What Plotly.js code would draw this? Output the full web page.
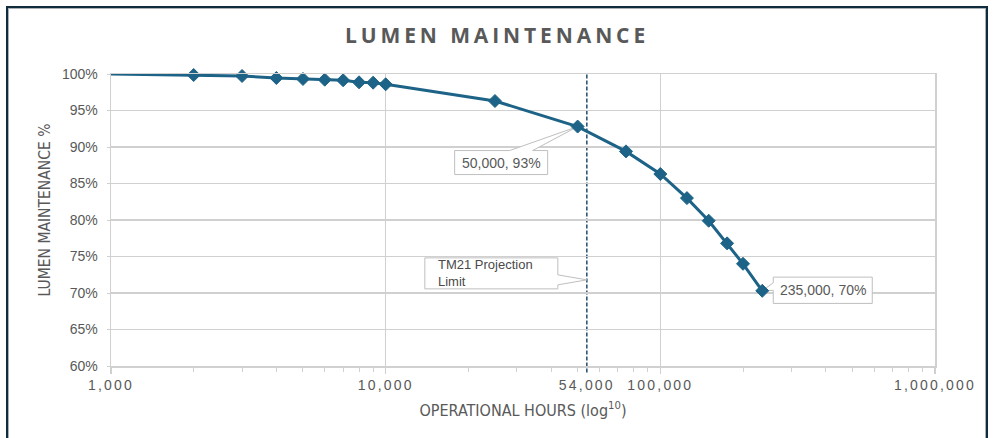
<!DOCTYPE html>
<html>
<head>
<meta charset="utf-8">
<script src="https://cdn.plot.ly/plotly-3.0.1.min.js"></script>
<style>
  html, body { margin: 0; padding: 0; background: #ffffff; }
  #wrap { position: relative; width: 994px; height: 438px; overflow: hidden; }
  #chart { position: absolute; left: 0; top: 0; width: 994px; height: 438px; }
  #frame { position: absolute; left: 6px; top: 6px; width: 982px; height: 460px; box-sizing: border-box;
           border: 2.5px solid #102d3d; box-shadow: inset 0 0 0 1px #a9b1b7; pointer-events: none; }
  .xtick text, .x2tick text { letter-spacing: 2.2px; }
  .gtitle { letter-spacing: 3.9px; }
  .g-ytitle { transform: translate(0px, -10px); }
</style>
</head>
<body>
<div id="wrap">
  <div id="chart"></div>
  <div id="frame"></div>
</div>
<script>
// ---- data ----
const hours = [1000, 2000, 3000, 4000, 5000, 6000, 7000, 8000, 9000, 10000,
               25000, 50000, 75000, 100000, 125000, 150000, 175000, 200000, 235000];
const lumen = [100, 99.86, 99.73, 99.45, 99.32, 99.22, 99.14, 98.86, 98.81, 98.59,
               96.3, 92.8, 89.4, 86.3, 83.0, 79.9, 76.8, 74.0, 70.3];
const markerShown = [0, 1, 1, 1, 1, 1, 1, 1, 1, 1, 1, 1, 1, 1, 1, 1, 1, 1, 1];
const labelledPoints = [11, 18];

const yTickVals = [60, 65, 70, 75, 80, 85, 90, 95, 100];
const yTickLabels = ['60%', '65%', '70%', '75%', '80%', '85%', '90%', '95%', '100%'];
const xMajorTicks = [1000, 10000, 100000, 1000000];
const xMajorLabels = ['1,000', '10,000', '100,000', '1,000,000'];
const projectionLimit = 54000;
const projectionTickLabel = '54,000';
const projectionText = 'TM21 Projection<br>Limit';

const titleText = 'LUMEN MAINTENANCE';
const xTitleText = 'OPERATIONAL HOURS (log<sup>10</sup>)';
const yTitleText = 'LUMEN MAINTENANCE %';

// minor tick positions (2..9 x each decade)
const xMinorTicks = [];
[1000, 10000, 100000].forEach(d => { for (let m = 2; m <= 9; m++) xMinorTicks.push(m * d); });

// ---- styles ----
const lineColor = '#1d6387';
const gray = '#595959';
const gridColor = '#d0d0d0';
const boxLine = '#bfbfbf';
const tickFont = { family: 'Liberation Sans, Arial, sans-serif', size: 14, color: gray };
const narrowFont = 'Liberation Sans Narrow, Arial Narrow, DejaVu Sans Condensed, sans-serif';

const fmt = v => v.toLocaleString('en-US');

const trace = {
  x: hours, y: lumen, type: 'scatter', mode: 'lines+markers',
  line: { color: lineColor, width: 3 },
  marker: { symbol: 'diamond', size: markerShown.map(s => s ? 10 : 0), color: lineColor,
            opacity: 1, line: { color: lineColor, width: 1 } },
  opacity: 1, cliponaxis: false, hoverinfo: 'x+y', showlegend: false
};

// callout outlines (box + pointer), in pixels relative to the anchored point
const calloutPaths = [
  'M-123,-24 L-68,-24 L0,0 L-45,-24 L-30,-24 L-30,-48 L-123,-48 Z',
  'M11,13.7 L110,13.7 L110,-12.6 L11,-12.6 L11,0.5 L0,0 L11,8 Z'
];
const calloutText = [
  { xshift: -76.5, yshift: -36, xanchor: 'center' },
  { xshift: 60.5, yshift: 0.7, xanchor: 'center' }
];

const shapes = [];
const annotations = [];

labelledPoints.forEach((idx, k) => {
  shapes.push({
    type: 'path', xref: 'x', yref: 'y', xsizemode: 'pixel', ysizemode: 'pixel',
    xanchor: hours[idx], yanchor: lumen[idx], path: calloutPaths[k],
    fillcolor: '#ffffff', line: { color: boxLine, width: 1 }, layer: 'between'
  });
  annotations.push({
    xref: 'x', yref: 'y', x: Math.log10(hours[idx]), y: lumen[idx],
    text: fmt(hours[idx]) + ', ' + Math.round(lumen[idx]) + '%',
    showarrow: false, xanchor: calloutText[k].xanchor, yanchor: 'middle',
    xshift: calloutText[k].xshift, yshift: calloutText[k].yshift,
    font: { family: 'Liberation Sans, Arial, sans-serif', size: 14, color: gray }
  });
});

// projection limit line and its callout
shapes.push({
  type: 'line', xref: 'x', yref: 'paper', x0: projectionLimit, x1: projectionLimit, y0: -0.022, y1: 1,
  line: { color: '#1f4e6b', width: 1.5, dash: '4px,2px' }, layer: 'between'
});
shapes.push({
  type: 'path', xref: 'x', yref: 'paper', xsizemode: 'pixel', ysizemode: 'pixel',
  xanchor: projectionLimit, yanchor: 0.295,
  path: 'M-162,22 L-29,22 L-29,5 L0,0 L-29,-5 L-29,-9 L-162,-9 Z',
  fillcolor: '#ffffff', line: { color: boxLine, width: 1 }, layer: 'between'
});
annotations.push({
  xref: 'x', yref: 'paper', x: Math.log10(projectionLimit), y: 0.295,
  text: projectionText, align: 'left', showarrow: false,
  xanchor: 'left', yanchor: 'middle', xshift: -151, yshift: 6.5,
  font: { family: 'Liberation Sans, Arial, sans-serif', size: 13, color: '#4a4a4a' }
});

const layout = {
  width: 994, height: 438,
  margin: { l: 111, r: 59, t: 74, b: 72 },
  paper_bgcolor: '#ffffff', plot_bgcolor: '#ffffff',
  title: {
    text: titleText, xref: 'container', x: 0.5, xanchor: 'center',
    yref: 'container', y: 1 - 36 / 438, yanchor: 'middle',
    font: { family: 'Open Sans, DejaVu Sans, sans-serif', size: 21, weight: 700, color: gray }
  },
  xaxis: {
    type: 'log', range: [3, 6],
    tickmode: 'array', tickvals: xMajorTicks, ticktext: xMajorLabels,
    tickfont: tickFont, ticks: 'outside', ticklen: 6, tickwidth: 1.5, tickcolor: gridColor,
    showgrid: true, gridcolor: gridColor, gridwidth: 1.5,
    showline: true, linecolor: gridColor, linewidth: 1.5, mirror: true,
    zeroline: false,
    minor: { tickmode: 'array', tickvals: xMinorTicks, ticks: 'outside', ticklen: 4,
             tickcolor: gridColor, tickwidth: 1, showgrid: false },
    title: { text: xTitleText, standoff: 12,
             font: { family: narrowFont, size: 16, color: gray } }
  },
  xaxis2: {
    type: 'log', range: [3, 6], overlaying: 'x', anchor: 'y', side: 'bottom',
    tickmode: 'array', tickvals: [projectionLimit], ticktext: [projectionTickLabel],
    tickfont: tickFont, ticks: 'outside', ticklen: 6, tickwidth: 1.5, tickcolor: 'rgba(0,0,0,0)',
    showgrid: false, showline: false, zeroline: false
  },
  yaxis: {
    range: [60, 100], tickmode: 'array', tickvals: yTickVals, ticktext: yTickLabels,
    tickfont: tickFont, ticks: 'outside', ticklen: 3, tickcolor: gridColor,
    showgrid: true, gridcolor: gridColor, gridwidth: 1.5,
    showline: true, linecolor: gridColor, linewidth: 1.5, mirror: true,
    zeroline: false, ticklabelstandoff: 6,
    title: { text: yTitleText, standoff: 7,
             font: { family: narrowFont, size: 15.5, color: gray } }
  },
  shapes: shapes,
  annotations: annotations,
  showlegend: false
};

const helper = { x: [projectionLimit], y: [null], xaxis: 'x2', yaxis: 'y', type: 'scatter',
                 mode: 'markers', hoverinfo: 'skip', showlegend: false };

Plotly.newPlot('chart', [trace, helper], layout, { staticPlot: true, displayModeBar: false });
</script>
</body>
</html>
